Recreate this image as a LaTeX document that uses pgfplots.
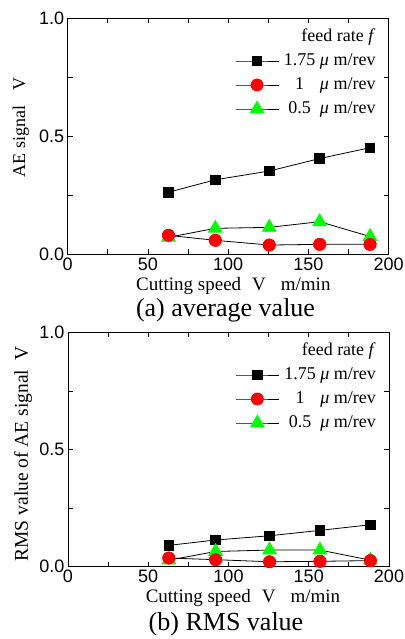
\documentclass[border=0pt]{standalone}
\usepackage{pgfplots}
\pgfplotsset{compat=1.18}
\usepackage{fontspec}
\setmainfont{Liberation Serif}
\newfontfamily\arial{Liberation Sans}
\newcommand\fs{\fontsize{18bp}{21bp}\selectfont}
\definecolor{mygreen}{RGB}{0,255,0}
\definecolor{myred}{RGB}{255,0,0}
\pgfplotsset{
 myaxis/.style={
  scale only axis, width=321bp,
  xmin=0,xmax=200,ymin=0,ymax=1,
  xtick={0,50,...,200}, ytick={0,0.5,1},
  minor xtick={25,75,...,175}, minor ytick={0.25,0.75},
  tick align=inside, major tick length=5bp, minor tick length=5bp,
  axis line style={line width=0.8bp},
  every tick/.style={black, line width=0.8bp},
  ticklabel style={font=\arial\fontsize{18bp}{20bp}\selectfont},
  /pgf/number format/assume math mode=true,
  yticklabel style={/pgf/number format/.cd,fixed,fixed zerofill,precision=1},
  label style={font=\fs},
  legend cell align=right,
  legend style={at={(rel axis cs:1,1)}, anchor=north east, xshift=-10bp, yshift=-8bp,
    draw=none, fill=none, font=\fs, column sep=5bp, row sep=7bp,
    nodes={inner sep=0bp, text height=13bp, text depth=4bp}},
  legend image code/.code={\draw[mark repeat=2,mark phase=2] plot coordinates {(0bp,0bp) (21.5bp,0bp) (43bp,0bp)};},
 },
 sq/.style={black, line width=0.8bp, mark=square*, mark size=4.8bp, mark options={solid,fill=black,draw=black}},
 ci/.style={black, line width=0.8bp, mark=*, mark size=6bp, mark options={solid,fill=myred,draw=myred}},
 tr/.style={black, line width=0.8bp, mark=triangle*, mark size=7.8bp, mark options={solid,fill=mygreen,draw=mygreen}},
}
\newcommand\lent[1]{\makebox[1.75em][c]{#1} \textit{μ} m/rev}
\newcommand\xlab{\fontsize{19bp}{21bp}\selectfont Cutting speed\hspace{11bp}V\hspace{15bp}m/min}
\begin{document}
\begin{tikzpicture}
\path[use as bounding box] (0,0) rectangle (405bp,-639bp);
\begin{axis}[myaxis, at={(67.7bp,-254bp)}, anchor=south west, height=235.7bp,
  xlabel={\xlab},
  xlabel style={at={(axis description cs:0.516,0)}, anchor=base, yshift=-36.5bp},
  ylabel={AE signal\hspace{15bp}V},
  ylabel style={at={(axis description cs:-0.133,0.537)}, anchor=base, rotate=0}]
\addlegendimage{empty legend}
\addlegendentry{feed rate \textit{f}}
\addplot[sq] coordinates {(62.8,0.262) (92,0.315) (125.6,0.352) (157,0.405) (188.4,0.451)};
\addlegendentry{\lent{1.75}}
\addplot[ci] coordinates {(62.8,0.079) (92,0.058) (125.6,0.038) (157,0.041) (188.4,0.041)};
\addlegendentry{\lent{1}}
\addplot[tr] coordinates {(62.8,0.071) (92,0.109) (125.6,0.113) (157,0.137) (188.4,0.074)};
\addlegendentry{\lent{0.5}}
\addplot[ci, only marks, forget plot] coordinates {(62.8,0.079) (92,0.058) (125.6,0.038) (157,0.041) (188.4,0.041)};
\end{axis}
\node[font=\fontsize{26bp}{28bp}\selectfont, anchor=base] at (225.5bp,-316.5bp) {(a) average value};
\begin{axis}[myaxis, at={(68bp,-566.7bp)}, anchor=south west, height=234.4bp,
  xlabel={\xlab},
  xlabel style={at={(axis description cs:0.545,0)}, anchor=base, yshift=-36bp},
  ylabel={\fontsize{19.5bp}{21bp}\selectfont RMS value of AE signal\hspace{9bp}V},
  ylabel style={at={(axis description cs:-0.125,0.481)}, anchor=base, rotate=0}]
\addlegendimage{empty legend}
\addlegendentry{feed rate \textit{f}}
\addplot[sq] coordinates {(62.8,0.091) (92,0.114) (125.6,0.132) (157,0.155) (188.4,0.179)};
\addlegendentry{\lent{1.75}}
\addplot[ci] coordinates {(62.8,0.037) (92,0.030) (125.6,0.021) (157,0.023) (188.4,0.026)};
\addlegendentry{\lent{1}}
\addplot[tr] coordinates {(62.8,0.028) (92,0.065) (125.6,0.071) (157,0.071) (188.4,0.028)};
\addlegendentry{\lent{0.5}}
\addplot[ci, only marks, forget plot] coordinates {(62.8,0.037) (92,0.030) (125.6,0.021) (157,0.023) (188.4,0.026)};
\end{axis}
\node[font=\fontsize{26bp}{28bp}\selectfont, anchor=base] at (226bp,-630.5bp) {(b) RMS value};
\end{tikzpicture}
\end{document}
